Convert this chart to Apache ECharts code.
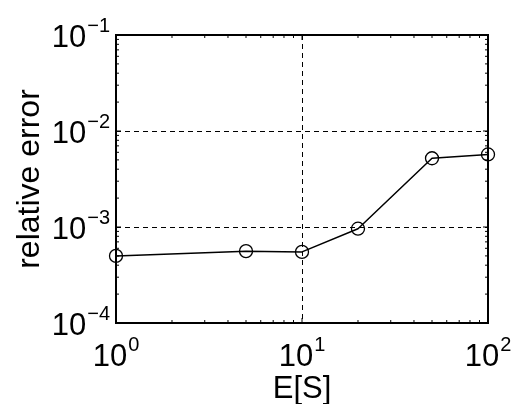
<!DOCTYPE html>
<html>
<head>
<meta charset="utf-8">
<script src="https://cdn.jsdelivr.net/npm/echarts@6/dist/echarts.min.js"></script>
<style>
html, body { margin: 0; padding: 0; background: #fff; }
#chart { width: 515px; height: 404px; }
</style>
</head>
<body>
<div id="chart"></div>
<script>
// data
var meanS = [1, 5, 10, 20, 50, 100];
var relErr = [5.0e-4, 5.6e-4, 5.5e-4, 9.6e-4, 5.2e-3, 5.7e-3];

// axis ticks (decades) and their exponent labels
var xTicks = [1, 10, 100];
var xTickExp = ['0', '1', '2'];
var yTicks = [1e-4, 1e-3, 1e-2, 1e-1];
var yTickExp = ['\u22124', '\u22123', '\u22122', '\u22121'];

var xMin = 1, xMax = 100, yMin = 1e-4, yMax = 1e-1;
var FONT = 'Liberation Sans, Arial, Helvetica, sans-serif';

// minor ticks at 2..9 of every decade
function minorTicks(lo, hi) {
  var out = [];
  for (var d = lo; d < hi * 0.999; d *= 10) {
    for (var m = 2; m <= 9; m++) out.push(m * d);
  }
  return out;
}
var xMinor = minorTicks(xMin, xMax);
var yMinor = minorTicks(yMin, yMax);

function expLabel(ticks, labels) {
  return function (v) {
    for (var i = 0; i < ticks.length; i++) {
      if (Math.abs(Math.log10(ticks[i]) - Math.log10(v)) < 1e-6) {
        return '{b|10}{s|' + labels[i] + '}';
      }
    }
    return '';
  };
}

// superscript: taller line, exponent pinned to the top, base to the bottom
var richLbl = {
  b: { fontSize: 31, fontFamily: FONT, color: '#000', lineHeight: 31, verticalAlign: 'bottom' },
  s: { fontSize: 20, fontFamily: FONT, color: '#000', lineHeight: 38, verticalAlign: 'top', padding: [0, 0, 0, 1] }
};

// ticks drawn inside on both sides of the box, like matlab
function tickSeries(dir, values, len) {
  return {
    type: 'custom',
    silent: true,
    z: 5,
    data: values.map(function (v) { return dir === 'x' ? [v, yMin] : [xMin, v]; }),
    renderItem: function (params, api) {
      var cs = params.coordSys;
      var st = { stroke: '#000', lineWidth: 1 };
      if (dir === 'x') {
        var px = api.coord([api.value(0), yMin])[0];
        return { type: 'group', children: [
          { type: 'line', shape: { x1: px, y1: cs.y + cs.height, x2: px, y2: cs.y + cs.height - len }, style: st },
          { type: 'line', shape: { x1: px, y1: cs.y, x2: px, y2: cs.y + len }, style: st }
        ] };
      }
      var py = api.coord([xMin, api.value(1)])[1];
      return { type: 'group', children: [
        { type: 'line', shape: { x1: cs.x, y1: py, x2: cs.x + len, y2: py }, style: st },
        { type: 'line', shape: { x1: cs.x + cs.width, y1: py, x2: cs.x + cs.width - len, y2: py }, style: st }
      ] };
    }
  };
}

var chart = echarts.init(document.getElementById('chart'));
var option = {
  animation: false,
  backgroundColor: '#fff',
  grid: {
    left: 116, top: 35, width: 372, height: 288,
    containLabel: false, outerBoundsMode: 'none',
    show: true, borderColor: '#000', borderWidth: 2, backgroundColor: 'transparent'
  },
  xAxis: {
    type: 'log', logBase: 10, min: xMin, max: xMax,
    name: 'E[S]', nameLocation: 'middle', nameGap: 51, nameMoveOverlap: false,
    nameTextStyle: { fontSize: 31, fontFamily: FONT, color: '#000' },
    axisLine: { lineStyle: { color: '#000', width: 2 } },
    axisTick: { show: false },
    axisLabel: { margin: 12, formatter: expLabel(xTicks, xTickExp), rich: richLbl },
    splitLine: { show: true, lineStyle: { color: '#000', width: 1, type: [5, 4] } }
  },
  yAxis: {
    type: 'log', logBase: 10, min: yMin, max: yMax,
    name: 'relative error', nameLocation: 'middle', nameGap: 70, nameRotate: 90, nameMoveOverlap: false,
    nameTextStyle: { fontSize: 32, fontFamily: FONT, color: '#000' },
    axisLine: { show: true, lineStyle: { color: '#000', width: 2 } },
    axisTick: { show: false },
    axisLabel: { margin: 6, formatter: expLabel(yTicks, yTickExp), rich: richLbl },
    splitLine: { show: true, lineStyle: { color: '#000', width: 1, type: [5, 4] } }
  },
  series: [
    tickSeries('x', xTicks, 5),
    tickSeries('x', xMinor, 3),
    tickSeries('y', yTicks, 5),
    tickSeries('y', yMinor, 3),
    {
      type: 'line',
      z: 10,
      data: meanS.map(function (x, i) { return [x, relErr[i]]; }),
      symbol: 'circle',
      symbolSize: 13,
      lineStyle: { color: '#000', width: 1.5 },
      itemStyle: { color: 'rgba(0,0,0,0)', borderColor: '#000', borderWidth: 1.3 }
    }
  ]
};
chart.setOption(option);
</script>
</body>
</html>
